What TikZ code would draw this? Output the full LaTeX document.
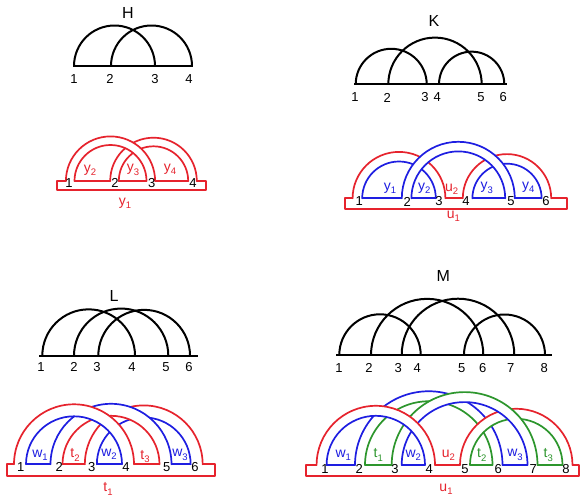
\documentclass[tikz,border=0pt]{standalone}
\usepackage{fontspec}
\setmainfont{Liberation Sans}
\definecolor{rd}{RGB}{230,35,45}
\definecolor{bl}{RGB}{30,30,225}
\definecolor{gr}{RGB}{45,150,45}
\newcommand{\lab}[2]{#1\raisebox{-0.45ex}{\fontsize{9.5}{10}\selectfont #2}}
% ribbon: cx, r, hw, ybase, outer colour, inner colour
\newcommand{\ribbon}[6]{%
  \fill[white] ({#1-#2-#3},#4) arc[start angle=180,end angle=360,radius={#2+#3}]
    -- ({#1+#2-#3},#4) arc[start angle=360,end angle=180,radius={#2-#3}] -- cycle;
  \draw[rib,#5] ({#1-#2-#3},#4) arc[start angle=180,end angle=360,radius={#2+#3}];
  \draw[rib,#6] ({#1-#2+#3},#4) arc[start angle=180,end angle=360,radius={#2-#3}];
}
\newcommand{\chordarc}[3]{% x1, x2, ybase
  \draw[chordline] (#1,#3) arc[start angle=180,end angle=360,radius={(#2-#1)/2}];
}
\begin{document}
\begin{tikzpicture}[x=1pt,y=-1pt,
  chordline/.style={line width=2pt,black},
  rib/.style={line width=1.7pt,line cap=round,line join=round},
  digit/.style={font=\fontsize{13}{13}\selectfont,inner sep=0pt},
  ttl/.style={font=\fontsize{16}{16}\selectfont,inner sep=0pt},
  flab/.style={font=\fontsize{14}{14}\selectfont,inner sep=0pt}]
\useasboundingbox (0,0) rectangle (581,498);
\fill[white] (0,0) rectangle (581,498);

% ---------------- H ----------------
\node[ttl] (tH) at (128,12.5) {H};
\draw[chordline] (73,66) -- (193,66);
\chordarc{74}{155}{66}
\chordarc{111}{192}{66}
\foreach \x/\t [count=\i] in {74/1,110/2,155/3,189/4}
  \node[digit] (hd\i) at (\x,79) {\t};

% ---------------- K ----------------
\node[ttl] (tK) at (434,20.5) {K};
\draw[chordline] (354,84.3) -- (507,84.3);
\chordarc{355.7}{426.7}{84.3}
\chordarc{388.3}{481.7}{84.3}
\chordarc{439}{504.3}{84.3}
\foreach \x/\t [count=\i] in {355/1,387.3/2,425/3,437.3/4,481/5,503.3/6}
  \node[digit] (kd\i) at (\x,97.5) {\t};

% ---------------- L ----------------
\node[ttl] (tL) at (114,295.5) {L};
\draw[chordline] (39,355.7) -- (198,355.7);
\chordarc{42.3}{135}{355.7}
\chordarc{74}{168.3}{355.7}
\chordarc{98.3}{190}{355.7}
\foreach \x/\t [count=\i] in {41/1,74/2,97/3,132/4,166/5,189/6}
  \node[digit] (ld\i) at (\x,366.7) {\t};

% ---------------- M ----------------
\node[ttl] (tM) at (443.3,276) {M};
\draw[chordline] (336,355) -- (552,355);
\chordarc{339.3}{420.7}{355}
\chordarc{371}{483.3}{355}
\chordarc{401.7}{514.3}{355}
\chordarc{464}{545}{355}
\foreach \x/\t [count=\i] in {339/1,369/2,398.3/3,417.3/4,461.7/5,482.7/6,510.7/7,544.3/8}
  \node[digit] (md\i) at (\x,367.7) {\t};

% ============ H ribbon ============
\draw[rib,rd] (65.9,181) -- (57,181) -- (57,190) -- (206,190) -- (206,181) -- (196.8,181);
\draw[rib,rd] (74.5,181) -- (110.2,181);
\draw[rib,rd] (118.8,181) -- (146.5,181);
\draw[rib,rd] (155.1,181) -- (188.2,181);
\ribbon{153.5}{39}{4.3}{181}{rd}{rd}
\ribbon{110.5}{40.3}{4.3}{181}{rd}{rd}
\foreach \x/\t [count=\i] in {69/1,115/2,151.7/3,193/4}
  \node[digit] (hr\i) at (\x,183) {\t};
\node[flab,rd] (y1) at (125,203) {\lab{y}{1}};
\node[flab,rd] (y2) at (90,170) {\lab{y}{2}};
\node[flab,rd] (y3) at (133,170) {\lab{y}{3}};
\node[flab,rd] (y4) at (170,169) {\lab{y}{4}};

% ============ K ribbon ============
\draw[rib,rd] (352.6,198.3) -- (345,198.3) -- (345,209) -- (566.7,209) -- (566.7,198.3) -- (551.2,198.3);
\draw[rib,bl] (362.2,198.3) -- (401.8,198.3);
\draw[rib,bl] (411.4,198.3) -- (435.8,198.3);
\draw[rib,rd] (445.4,198.3) -- (462.8,198.3);
\draw[rib,bl] (472.4,198.3) -- (505.2,198.3);
\draw[rib,bl] (514.8,198.3) -- (541.6,198.3);
\ribbon{507}{39.4}{4.8}{198.3}{rd}{bl}
\ribbon{399}{41.6}{4.8}{198.3}{rd}{bl}
\ribbon{458.3}{51.7}{4.8}{198.3}{bl}{bl}
\foreach \x/\t [count=\i] in {359.3/1,407.3/2,439/3,466/4,511/5,546/6}
  \node[digit] (kr\i) at (\x,201.5) {\t};
\node[flab,bl] (ky1) at (390,188) {\lab{y}{1}};
\node[flab,bl] (ky2) at (424.3,188) {\lab{y}{2}};
\node[flab,rd] (ku2) at (451.7,189) {\lab{u}{2}};
\node[flab,bl] (ky3) at (486.7,188) {\lab{y}{3}};
\node[flab,bl] (ky4) at (528.3,187) {\lab{y}{4}};
\node[flab,rd] (ku1) at (453.3,216) {\lab{u}{1}};

% ============ L ribbon ============
\draw[rib,rd] (14,464.3) -- (6.7,464.3) -- (6.7,476) -- (215,476) -- (215,464.3) -- (202.65,464.3);
\draw[rib,bl] (26,464.3) -- (50.5,464.3);
\draw[rib,rd] (62.5,464.3) -- (84.85,464.3);
\draw[rib,bl] (96.85,464.3) -- (122,464.3);
\draw[rib,rd] (134,464.3) -- (159.5,464.3);
\draw[rib,bl] (171.5,464.3) -- (190.65,464.3);
\ribbon{143.75}{52.9}{6}{464.3}{rd}{bl}
\ribbon{111}{54.5}{6}{464.3}{bl}{rd}
\ribbon{74}{54}{6}{464.3}{rd}{bl}
\foreach \x/\t [count=\i] in {20.7/1,59.3/2,91.7/3,126/4,166.7/5,195/6}
  \node[digit] (lr\i) at (\x,467) {\t};
\node[flab,bl] (lw1) at (40,455) {\lab{w}{1}};
\node[flab,rd] (lt2) at (75,455) {\lab{t}{2}};
\node[flab,bl] (lw2) at (109,454) {\lab{w}{2}};
\node[flab,rd] (lt3) at (145,456.7) {\lab{t}{3}};
\node[flab,bl] (lw3) at (180,455) {\lab{w}{3}};
\node[flab,rd] (lt1) at (108,489) {\lab{t}{1}};

% ============ M ribbon ============
\draw[rib,rd] (316.6,465) -- (306,465) -- (306,476) -- (579,476) -- (579,465) -- (572.5,465);
\draw[rib,bl] (326.6,465) -- (355,465);
\draw[rib,gr] (365,465) -- (391.7,465);
\draw[rib,bl] (401.7,465) -- (425,465);
\draw[rib,rd] (435,465) -- (460,465);
\draw[rib,gr] (470,465) -- (492.5,465);
\draw[rib,bl] (502.5,465) -- (527.5,465);
\draw[rib,gr] (537.5,465) -- (562.5,465);
\ribbon{428.75}{68.75}{5}{465}{bl}{gr}
\ribbon{516.25}{51.25}{5}{465}{rd}{gr}
\ribbon{464.6}{67.9}{5}{465}{gr}{bl}
\ribbon{375.8}{54.2}{5}{465}{rd}{bl}
\foreach \x/\t [count=\i] in {325/1,359.3/2,395/3,429.3/4,465/5,498.3/6,533.3/7,566/8}
  \node[digit] (mr\i) at (\x,469.3) {\t};
\node[flab,bl] (mw1) at (343.3,455) {\lab{w}{1}};
\node[flab,gr] (mt1) at (378.3,455) {\lab{t}{1}};
\node[flab,bl] (mw2) at (413.3,455) {\lab{w}{2}};
\node[flab,rd] (mu2) at (448.3,455) {\lab{u}{2}};
\node[flab,gr] (mt2) at (481.7,455) {\lab{t}{2}};
\node[flab,bl] (mw3) at (515,455) {\lab{w}{3}};
\node[flab,gr] (mt3) at (548.3,455) {\lab{t}{3}};
\node[flab,rd] (mu1) at (446,489) {\lab{u}{1}};
\end{tikzpicture}
\end{document}
